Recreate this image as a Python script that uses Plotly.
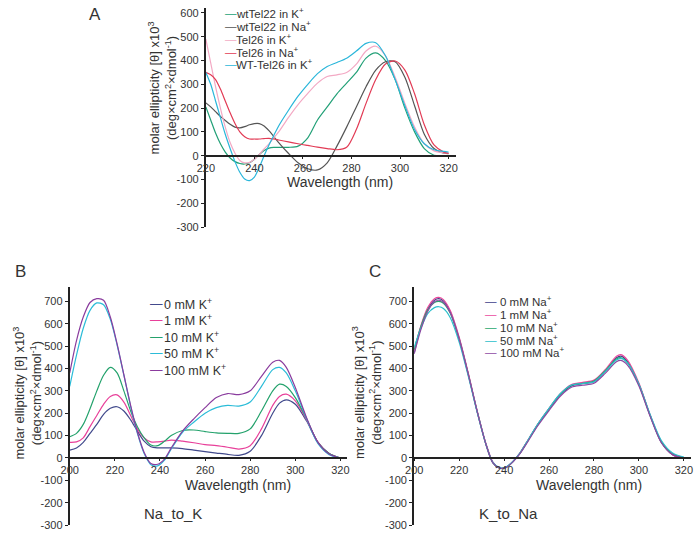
import plotly.graph_objects as go

W, H = 698, 538

# ---------------- panel A data ----------------
wl_a = [220, 222, 224, 226, 228, 230, 232, 234, 236, 238, 240, 242, 244, 246, 248, 250,
        254, 258, 262, 266, 270, 274, 278, 282, 286, 290, 294, 298, 302, 306, 310, 314, 318, 320]
wtTel22_K = [205, 150, 95, 50, 15, -10, -25, -33, -35, -30, -15, 5, 22, 32, 35, 35,
             35, 40, 75, 150, 205, 260, 305, 350, 410, 432, 400, 320, 200, 100, 30, 2, 0, 0]
wtTel22_Na = [222, 205, 185, 165, 148, 132, 120, 117, 122, 130, 135, 135, 125, 105, 80, 55,
              10, -30, -55, -60, -30, 40, 120, 205, 290, 360, 395, 395, 330, 210, 90, 30, 10, 8]
Tel26_K = [490, 390, 290, 200, 120, 55, 10, -20, -30, -28, -15, 5, 28, 50, 75, 100,
           160, 215, 262, 305, 333, 340, 350, 385, 440, 460, 420, 330, 220, 120, 50, 20, 12, 10]
Tel26_Na = [350, 340, 320, 280, 230, 180, 135, 100, 80, 70, 70, 70, 72, 73, 70, 66,
            58, 50, 43, 36, 30, 25, 35, 110, 220, 320, 385, 398, 360, 260, 130, 45, 15, 10]
WT_Tel26_K = [350, 300, 230, 160, 90, 30, -25, -70, -98, -105, -90, -50, 0, 45, 85, 125,
              190, 250, 300, 345, 375, 392, 410, 440, 472, 475, 420, 320, 210, 110, 50, 25, 18, 15]
names_a = ["wtTel22 in K<sup>+</sup>", "wtTel22 in Na<sup>+</sup>", "Tel26 in K<sup>+</sup>",
           "Tel26 in Na<sup>+</sup>", "WT-Tel26 in K<sup>+</sup>"]
colors_a = ["#22a077", "#555555", "#f3a9c4", "#e23b55", "#2ab6da"]
series_a = [wtTel22_K, wtTel22_Na, Tel26_K, Tel26_Na, WT_Tel26_K]

# ---------------- panel B data (Na -> K titration) ----------------
wl_b = [200, 203, 206, 209, 212, 215, 218, 221, 224, 227, 230, 233, 236, 239, 242, 245,
        250, 255, 260, 265, 270, 275, 280, 285, 290, 293, 296, 300, 305, 310, 315, 320]
k0 = [35, 45, 70, 110, 150, 195, 222, 229, 210, 170, 120, 75, 50, 45, 45, 45,
      42, 35, 28, 22, 16, 12, 30, 100, 200, 245, 260, 240, 165, 70, 20, 0]
k1 = [70, 72, 90, 140, 190, 240, 275, 282, 250, 190, 130, 90, 72, 72, 75, 80,
      75, 68, 60, 55, 48, 40, 55, 130, 235, 275, 285, 255, 170, 72, 20, 0]
k10 = [95, 110, 150, 220, 300, 370, 405, 380, 300, 210, 140, 90, 58, 55, 75, 100,
       123, 125, 118, 112, 110, 110, 130, 210, 300, 330, 320, 270, 175, 70, 20, 0]
k50 = [320, 460, 580, 660, 693, 685, 620, 505, 370, 230, 110, 20, -30, -35, -10, 40,
       115, 160, 200, 225, 235, 232, 250, 320, 395, 405, 380, 300, 175, 65, 15, 0]
k100 = [380, 525, 630, 695, 712, 705, 630, 510, 372, 235, 115, 25, -25, -28, -5, 45,
        120, 175, 225, 270, 288, 283, 300, 365, 428, 436, 405, 315, 180, 70, 18, 0]
names_b = ["0 mM K<sup>+</sup>", "1 mM K<sup>+</sup>", "10 mM K<sup>+</sup>",
           "50 mM K<sup>+</sup>", "100 mM K<sup>+</sup>"]
colors_b = ["#414a8c", "#e8409a", "#24a26c", "#2bbcd8", "#8a3c9e"]
series_b = [k0, k1, k10, k50, k100]

# ---------------- panel C data (K -> Na titration) ----------------
wl_c = [200, 203, 206, 209, 211, 213, 216, 220, 224, 228, 232, 235, 238, 241, 244, 247,
        250, 255, 260, 265, 270, 275, 280, 285, 290, 292, 295, 300, 305, 310, 315, 320]
na0 = [470, 585, 665, 705, 712, 702, 655, 535, 378, 210, 60, -20, -45, -40, -15, 20,
       68, 148, 218, 282, 322, 332, 342, 388, 448, 455, 430, 330, 190, 70, 15, 0]
na1 = [480, 592, 672, 712, 718, 708, 660, 540, 382, 212, 62, -18, -44, -40, -15, 22,
       70, 152, 222, 287, 328, 338, 348, 395, 455, 462, 436, 335, 192, 72, 15, 0]
na10 = [485, 588, 662, 695, 700, 692, 648, 530, 375, 208, 58, -22, -46, -42, -16, 20,
        68, 150, 220, 285, 325, 334, 344, 390, 442, 448, 425, 328, 190, 72, 18, 2]
na50 = [495, 580, 645, 672, 676, 668, 628, 518, 368, 205, 58, -20, -44, -40, -14, 22,
        70, 152, 222, 287, 326, 333, 340, 386, 438, 445, 424, 330, 195, 78, 22, 4]
na100 = [465, 575, 655, 698, 705, 696, 650, 532, 376, 208, 58, -22, -46, -42, -17, 18,
         64, 144, 212, 276, 316, 325, 334, 378, 430, 436, 414, 322, 186, 68, 15, 0]
names_c = ["0 mM Na<sup>+</sup>", "1 mM Na<sup>+</sup>", "10 mM Na<sup>+</sup>",
           "50 mM Na<sup>+</sup>", "100 mM Na<sup>+</sup>"]
colors_c = ["#3e4088", "#ea4a9d", "#28a66d", "#2cc0cc", "#8c4aa2"]
series_c = [na0, na1, na10, na50, na100]

y_ticks_a = [-300, -200, -100, 0, 100, 200, 300, 400, 500, 600]
y_ticks_bc = [-300, -200, -100, 0, 100, 200, 300, 400, 500, 600, 700]
x_ticks_a = [220, 240, 260, 280, 300, 320]
x_ticks_bc = [200, 220, 240, 260, 280, 300, 320]


def px(x):
    return x / W


def py(y):
    return 1 - y / H


FONT = "Liberation Sans, Arial, sans-serif"
AX = "#222222"

fig = go.Figure()

panels = [
    ("x", "y", wl_a, series_a, colors_a),
    ("x2", "y2", wl_b, series_b, colors_b),
    ("x3", "y3", wl_c, series_c, colors_c),
]
for xa, ya, wl, series, cols in panels:
    for vals, col in zip(series, cols):
        fig.add_trace(go.Scatter(x=wl, y=vals, mode="lines", xaxis=xa, yaxis=ya,
                                 line=dict(color=col, width=1.2, shape="spline", smoothing=0.8),
                                 showlegend=False, hoverinfo="skip"))


def yaxis_cfg(dom, rng, ticks, anchor):
    return dict(domain=dom, range=rng, tickvals=ticks, ticktext=[str(t) for t in ticks],
                anchor=anchor, showgrid=False, zeroline=False, showline=True,
                linecolor=AX, linewidth=2, ticks="outside", ticklen=3, tickcolor=AX,
                tickwidth=1, tickfont=dict(family=FONT, size=11, color="#333"))


def xaxis_cfg(dom, rng, ticks, yanchor_dom, yrng):
    # x axis line sits on y = 0
    frac = (0 - yrng[0]) / (yrng[1] - yrng[0])
    pos = yanchor_dom[0] + frac * (yanchor_dom[1] - yanchor_dom[0])
    return dict(domain=dom, range=rng, tickvals=ticks, anchor="free", position=pos,
                showgrid=False, zeroline=False, showline=True, linecolor=AX, linewidth=2,
                ticks="outside", ticklen=2, tickcolor=AX, tickwidth=1,
                ticklabeloverflow="allow",
                tickfont=dict(family=FONT, size=11, color="#333"))


ya_dom = [py(229), py(7.3)]
yb_dom = [py(531), py(289.6)]
yrng_a = [-300, 620]
yrng_bc = [-300, 765]

fig.update_layout(
    width=W, height=H, autosize=False,
    margin=dict(l=0, r=0, t=0, b=0),
    paper_bgcolor="white", plot_bgcolor="white",
    showlegend=False,
    font=dict(family=FONT, color="#333"),
    xaxis=xaxis_cfg([px(200), px(454)], [220, 323], x_ticks_a, ya_dom, yrng_a),
    yaxis=yaxis_cfg(ya_dom, yrng_a, y_ticks_a, "x"),
    xaxis2=xaxis_cfg([px(61.7), px(343.6)], [200, 323], x_ticks_bc, yb_dom, yrng_bc),
    yaxis2=yaxis_cfg(yb_dom, yrng_bc, y_ticks_bc, "x2"),
    xaxis3=xaxis_cfg([px(411.7), px(692.5)], [200, 323], x_ticks_bc, yb_dom, yrng_bc),
    yaxis3=yaxis_cfg(yb_dom, yrng_bc, y_ticks_bc, "x3"),
)

ann = []


def text(x, y, s, size, color="#333", xanchor="center", **kw):
    ann.append(dict(x=px(x), y=py(y), xref="paper", yref="paper", text=s, showarrow=False,
                    xanchor=xanchor, yanchor="middle",
                    font=dict(family=FONT, size=size, color=color), **kw))


# panel letters
text(87, 14, "A", 17)
text(12, 274, "B", 17)
text(372, 274, "C", 17)

# axis titles
ytitle = "molar ellipticity [θ] x10<sup>3</sup><br>(deg×cm<sup>2</sup>×dmol<sup>-1</sup>)"
for xc, yc in [(156, 88), (19, 397), (364, 397)]:
    text(xc, yc, ytitle, 13, textangle=-90)
text(336, 183, "Wavelength (nm)", 14)
text(233, 490, "Wavelength (nm)", 14)
text(589, 490, "Wavelength (nm)", 14)
text(167, 519, "Na_to_K", 15)
text(508, 519, "K_to_Na", 15)

# legends: short coloured line sample + label
legends = [
    (names_a, colors_a, 217, 229, 12.5, 12.9, 11.5),
    (names_b, colors_b, 141, 155, 306.7, 16.8, 12.5),
    (names_c, colors_c, 482, 497, 304, 13, 11.5),
]
for names, cols, x0, xt, y0, step, fs in legends:
    for i, (nm, col) in enumerate(zip(names, cols)):
        text(x0, y0 + i * step, "—", fs, color=col, xanchor="left")
        text(xt, y0 + i * step, nm, fs, xanchor="left")

fig.update_layout(annotations=ann)
# drop the default 8px body margin so the 698x538 figure fills the window
fig.write_html("out.html", config={"displayModeBar": False},
               post_script="document.body.style.margin='0px';")
